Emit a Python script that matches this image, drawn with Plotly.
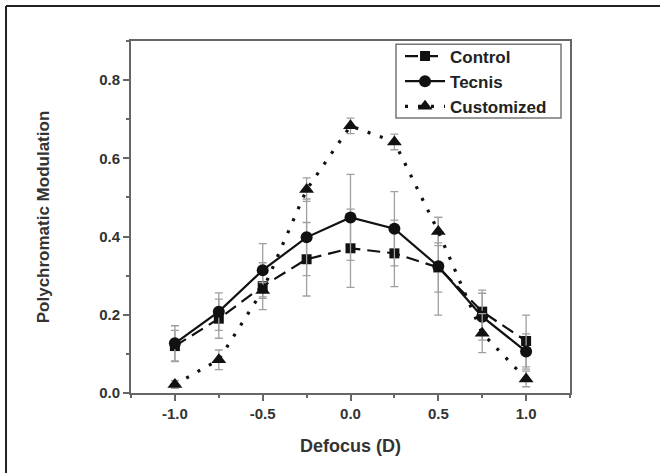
import plotly.graph_objects as go

defocus = [-1.0, -0.75, -0.5, -0.25, 0.0, 0.25, 0.5, 0.75, 1.0]

control = [0.120, 0.190, 0.273, 0.342, 0.370, 0.357, 0.321, 0.208, 0.133]
control_err = [0.040, 0.050, 0.060, 0.094, 0.100, 0.085, 0.063, 0.055, 0.066]

tecnis = [0.127, 0.208, 0.314, 0.398, 0.449, 0.420, 0.324, 0.195, 0.106]
tecnis_err = [0.045, 0.048, 0.068, 0.098, 0.110, 0.095, 0.125, 0.060, 0.045]

customized = [0.022, 0.085, 0.262, 0.520, 0.683, 0.642, 0.413, 0.153, 0.036]
customized_err = [0.010, 0.025, 0.020, 0.030, 0.020, 0.020, 0.036, 0.050, 0.020]

x_ticks = [-1.0, -0.5, 0.0, 0.5, 1.0]
x_tick_labels = ["-1.0", "-0.5", "0.0", "0.5", "1.0"]
y_ticks = [0.0, 0.2, 0.4, 0.6, 0.8]
y_tick_labels = ["0.0", "0.2", "0.4", "0.6", "0.8"]

FONT = "Arial, 'Liberation Sans', sans-serif"
ERR_COLOR = "#a0a0a0"

fig = go.Figure()

def add_series(name, y, err, symbol, size, dash, width):
    fig.add_trace(go.Scatter(
        x=defocus, y=y, name=name, mode="lines+markers",
        line=dict(color="#111111", width=width, dash=dash),
        marker=dict(symbol=symbol, size=size, color="#111111"),
        error_y=dict(type="data", array=err, visible=True,
                     color=ERR_COLOR, thickness=1.3, width=4),
    ))

add_series("Control", control, control_err, "square", 10, "13px,7px", 2.2)
add_series("Tecnis", tecnis, tecnis_err, "circle", 12, "solid", 2.2)
add_series("Customized", customized, customized_err, "triangle-up", 13, "3px,10px", 3.2)

axis_common = dict(
    showline=True, linecolor="#666666", linewidth=2, mirror=True,
    ticks="outside", ticklen=6, tickwidth=1.5, tickcolor="#666666",
    showgrid=False, zeroline=False,
    tickfont=dict(family=FONT, size=15, color="#333333", weight="bold"),
)

fig.update_xaxes(
    range=[-1.25, 1.25], tickvals=x_ticks, ticktext=x_tick_labels,
    minor=dict(ticks="outside", ticklen=3, tickwidth=1.5, tickcolor="#666666", dtick=0.25, tick0=-1.0),
    title=dict(text="<b>Defocus (D)</b>", font=dict(family=FONT, size=18, color="#333333"), standoff=18),
    **axis_common,
)
fig.update_yaxes(
    range=[0, 0.9], tickvals=y_ticks, ticktext=y_tick_labels,
    minor=dict(ticks="outside", ticklen=3, tickwidth=1.5, tickcolor="#666666", dtick=0.1, tick0=0.0),
    title=dict(text="<b>Polychromatic Modulation</b>", font=dict(family=FONT, size=17, color="#333333"), standoff=45),
    **axis_common,
)

# outer figure frame (only left and top edges fall inside the window)
fig.add_shape(type="line", xref="paper", yref="paper",
              x0=-0.2847, x1=-0.2847, y0=-0.3, y1=1.0994,
              line=dict(color="#222222", width=2), layer="below")
fig.add_shape(type="line", xref="paper", yref="paper",
              x0=-0.2847, x1=1.3, y0=1.0994, y1=1.0994,
              line=dict(color="#222222", width=2), layer="below")

# legend frame
fig.add_shape(type="rect", xref="paper", yref="paper",
              x0=0.6036, x1=0.9795, y0=0.781, y1=0.991,
              line=dict(color="#777777", width=1.5), fillcolor="white", layer="below")

fig.update_layout(
    width=660, height=473,
    margin=dict(l=131, r=90, t=41, b=80),
    paper_bgcolor="white", plot_bgcolor="rgba(0,0,0,0)",
    showlegend=True,
    legend=dict(
        x=0.6128, y=1.007, xanchor="left", yanchor="top",
        bgcolor="rgba(0,0,0,0)", borderwidth=0,
        font=dict(family=FONT, size=17, color="#222222", weight="bold"),
        itemwidth=40, tracegroupgap=0,
    ),
)

fig.write_html("out.html", config={"displayModeBar": False},
               post_script="document.body.style.margin='0';document.body.style.overflow='hidden';")
